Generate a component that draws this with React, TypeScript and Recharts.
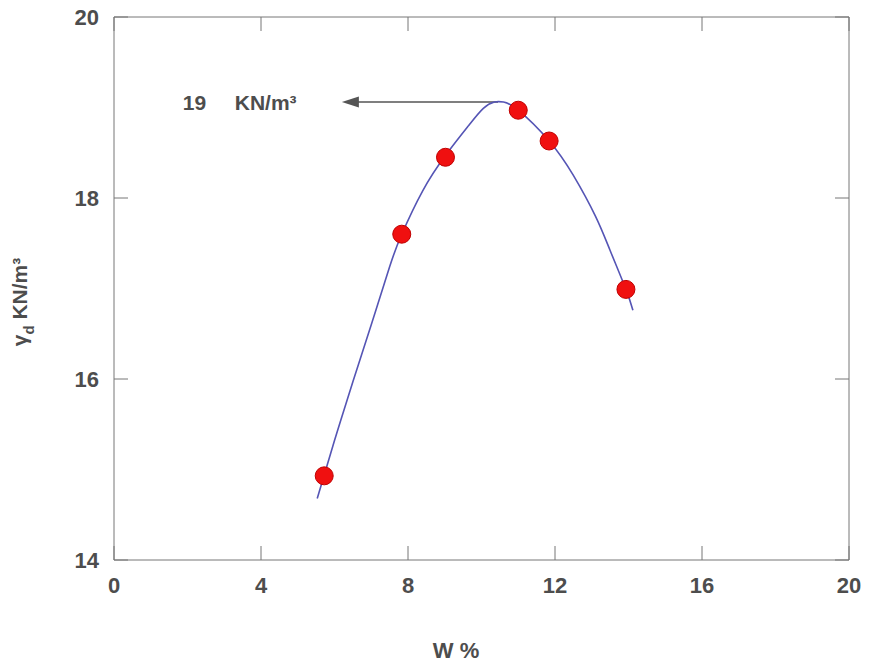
import React from 'react';
import {
  ComposedChart,
  Line,
  Scatter,
  XAxis,
  YAxis,
  ReferenceLine,
  ReferenceDot,
} from 'recharts';

// measured points (water content %, dry unit weight kN/m3)
const waterContent = [5.72, 7.83, 9.02, 11.0, 11.84, 13.93];
const dryUnitWeight = [14.93, 17.6, 18.45, 18.97, 18.63, 16.99];

// fitted compaction curve
const curveW = [5.53, 6.0, 6.5, 7.0, 7.5, 7.83, 8.4, 9.02, 9.65, 10.05, 10.35, 10.6, 11.0, 11.84, 12.5, 13.1, 13.5, 13.93, 14.12];
const curveGamma = [14.68, 15.32, 15.97, 16.6, 17.24, 17.6, 18.08, 18.47, 18.8, 18.99, 19.06, 19.06, 18.97, 18.63, 18.25, 17.8, 17.42, 16.99, 16.76];

const xTicks = [0, 4, 8, 12, 16, 20];
const yTicks = [14, 16, 18, 20];

const maxGamma = 19.06;
const optimumW = 10.45;
const arrowTipW = 6.2;
const labelW = 1.87;

const points = waterContent.map((w, i) => ({ x: w, y: dryUnitWeight[i] }));
const curve = curveW.map((w, i) => ({ x: w, y: curveGamma[i] }));

const W = 869;
const H = 670;
const margin = { top: 16, right: 19, bottom: 0, left: 0 };
const yAxisWidth = 114;
const xAxisHeight = 110;
const plotW = W - margin.left - margin.right - yAxisWidth - 1;
const plotH = H - margin.top - margin.bottom - xAxisHeight - 1;

// inward tick marks, 14px long, expressed in axis units
const tickPx = 14;
const xMin = 0;
const xMax = 20;
const yMin = 14;
const yMax = 20;
const tickLenY = (tickPx / plotH) * (yMax - yMin);
const tickLenX = (tickPx / plotW) * (xMax - xMin);

const axisColor = '#777';
const textColor = '#4d4d4d';
const font = 'Arial, "Liberation Sans", sans-serif';

const RedDot = (props: any) => {
  const { cx, cy } = props;
  return <circle cx={cx} cy={cy} r={9} fill="#f01010" stroke="#c00000" strokeWidth={1} />;
};

const ArrowHead = (props: any) => {
  const { cx, cy } = props;
  return <path d={`M${cx},${cy} L${cx + 17},${cy - 5.5} L${cx + 17},${cy + 5.5} Z`} fill="#555" />;
};

const XTick = (props: any) => {
  const { x, y, payload } = props;
  return (
    <text x={x} y={y} dy="0.71em" textAnchor="middle" fill={textColor} fontSize={22} fontWeight={700} fontFamily={font}>
      {payload.value}
    </text>
  );
};

const YTick = (props: any) => {
  const { x, y, payload } = props;
  return (
    <text x={x} y={y} dy="0.36em" textAnchor="end" fill={textColor} fontSize={22} fontWeight={700} fontFamily={font}>
      {payload.value}
    </text>
  );
};

const PeakLabel = (props: any) => {
  const { viewBox } = props;
  const x = viewBox.x;
  const y = viewBox.y;
  return (
    <text y={y} dy="0.36em" fill={textColor} fontSize={21} fontWeight={700} fontFamily={font}>
      <tspan x={x}>19</tspan>
      <tspan x={x + 52}>KN/m³</tspan>
    </text>
  );
};

export default function App() {
  return (
    <div style={{ position: 'absolute', left: 0, top: 0, background: '#fff' }}>
      <ComposedChart width={W} height={H} margin={margin}>
        <XAxis
          dataKey="x"
          type="number"
          domain={[xMin, xMax]}
          ticks={xTicks}
          tickSize={0}
          tickMargin={17}
          tickLine={false}
          height={xAxisHeight}
          stroke={axisColor}
          tick={<XTick />}
          label={{
            content: (p: any) => (
              <text
                x={p.viewBox.x + 342}
                y={p.viewBox.y + 98}
                textAnchor="middle"
                fill={textColor}
                fontSize={22}
                fontWeight={700}
                fontFamily={font}
              >
                W %
              </text>
            ),
          }}
        />
        <XAxis
          xAxisId="top"
          orientation="top"
          dataKey="x"
          type="number"
          domain={[xMin, xMax]}
          tick={false}
          tickLine={false}
          height={1}
          stroke={axisColor}
        />
        <YAxis
          type="number"
          domain={[yMin, yMax]}
          ticks={yTicks}
          tickSize={0}
          tickMargin={15}
          tickLine={false}
          width={yAxisWidth}
          stroke={axisColor}
          tick={<YTick />}
          label={{
            content: (p: any) => (
              <text
                transform={`translate(27, ${p.viewBox.y + 285}) rotate(-90)`}
                textAnchor="middle"
                fill={textColor}
                fontSize={21}
                fontWeight={700}
                fontFamily={font}
              >
                γ<tspan dy={7} fontSize={15}>d</tspan>
                <tspan dy={-7}> KN/m³</tspan>
              </text>
            ),
          }}
        />
        <YAxis
          yAxisId="right"
          orientation="right"
          type="number"
          domain={[yMin, yMax]}
          tick={false}
          tickLine={false}
          width={1}
          stroke={axisColor}
        />
        {xTicks.map((t) => (
          <ReferenceLine
            key={`xb${t}`}
            segment={[
              { x: t, y: yMin },
              { x: t, y: yMin + tickLenY },
            ]}
            stroke={axisColor}
          />
        ))}
        {xTicks.map((t) => (
          <ReferenceLine
            key={`xt${t}`}
            segment={[
              { x: t, y: yMax },
              { x: t, y: yMax - tickLenY },
            ]}
            stroke={axisColor}
          />
        ))}
        {yTicks.map((t) => (
          <ReferenceLine
            key={`yl${t}`}
            segment={[
              { x: xMin, y: t },
              { x: xMin + tickLenX, y: t },
            ]}
            stroke={axisColor}
          />
        ))}
        {yTicks.map((t) => (
          <ReferenceLine
            key={`yr${t}`}
            segment={[
              { x: xMax, y: t },
              { x: xMax - tickLenX, y: t },
            ]}
            stroke={axisColor}
          />
        ))}
        <ReferenceLine
          segment={[
            { x: arrowTipW + 0.3, y: maxGamma },
            { x: optimumW, y: maxGamma },
          ]}
          stroke="#555"
          strokeWidth={1.5}
        />
        <ReferenceDot x={arrowTipW} y={maxGamma} r={0} shape={ArrowHead} />
        <ReferenceDot x={labelW} y={maxGamma} r={0} fill="none" stroke="none" label={<PeakLabel />} />
        <Line
          data={curve}
          dataKey="y"
          type="natural"
          stroke="#5555b5"
          strokeWidth={1.6}
          dot={false}
          activeDot={false}
          isAnimationActive={false}
        />
        <Scatter data={points} dataKey="y" shape={RedDot} isAnimationActive={false} />
      </ComposedChart>
    </div>
  );
}
